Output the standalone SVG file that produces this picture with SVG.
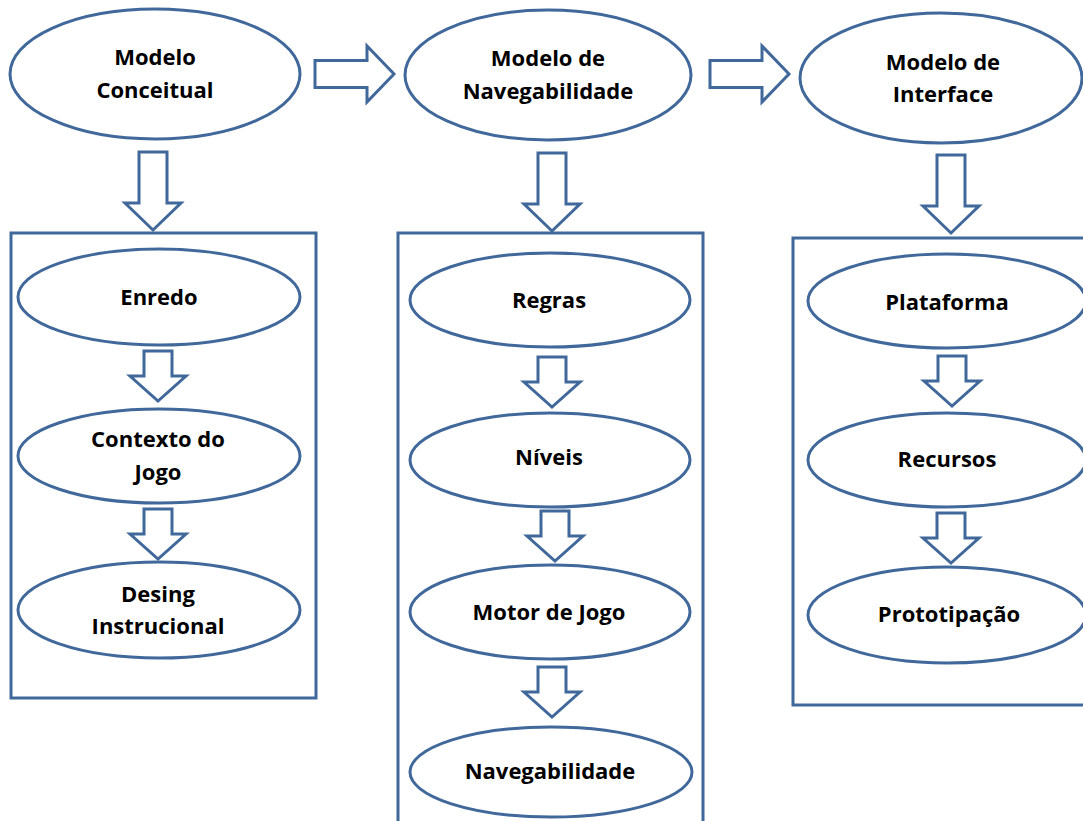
<svg xmlns="http://www.w3.org/2000/svg" xmlns:xlink="http://www.w3.org/1999/xlink" width="1083" height="821" viewBox="0 0 1083 821">
  <style>
    .shape { fill: #ffffff; stroke: #41689a; stroke-width: 3; }
    .frame { fill: none; stroke: #41689a; stroke-width: 3; }
    .arrow { fill: #ffffff; stroke: #41689a; stroke-width: 3; stroke-linejoin: miter; }
    .label { font-family: "Open Sans", "Liberation Sans", sans-serif; font-weight: 700; font-size: 22px; fill: #000000; text-anchor: middle; }
  </style>
  <defs>
    <!-- block arrows, each drawn relative to its tip at (0,0) -->
    <path id="downLong" d="M -14 -78 L 14 -78 L 14 -27 L 28 -27 L 0 0 L -28 -27 L -14 -27 Z"/>
    <path id="downShort" d="M -14 -50 L 14 -50 L 14 -25 L 28 -25 L 0 0 L -28 -25 L -14 -25 Z"/>
    <path id="right" d="M -79 -13.5 L -27 -13.5 L -27 -28 L 0 0 L -27 28 L -27 13.5 L -79 13.5 Z"/>
  </defs>

  <rect width="1083" height="821" fill="#ffffff"/>

  <!-- containers -->
  <g id="box-conceitual"><rect class="frame" x="11" y="233" width="305" height="465"/></g>
  <g id="box-navegabilidade"><rect class="frame" x="398" y="233" width="305" height="600"/></g>
  <g id="box-interface"><rect class="frame" x="793" y="238" width="305" height="467"/></g>

  <!-- connectors -->
  <g id="connectors">
    <use xlink:href="#right" class="arrow" transform="translate(394 74)"/>
    <use xlink:href="#right" class="arrow" transform="translate(789 74)"/>
    <use xlink:href="#downLong" class="arrow" transform="translate(153 230)"/>
    <use xlink:href="#downLong" class="arrow" transform="translate(552 231)"/>
    <use xlink:href="#downLong" class="arrow" transform="translate(951 233)"/>
    <use xlink:href="#downShort" class="arrow" transform="translate(158 401)"/>
    <use xlink:href="#downShort" class="arrow" transform="translate(158 559)"/>
    <use xlink:href="#downShort" class="arrow" transform="translate(552 407)"/>
    <use xlink:href="#downShort" class="arrow" transform="translate(555 561)"/>
    <use xlink:href="#downShort" class="arrow" transform="translate(552 717)"/>
    <use xlink:href="#downShort" class="arrow" transform="translate(952 406)"/>
    <use xlink:href="#downShort" class="arrow" transform="translate(951 563)"/>
  </g>

  <!-- top-level models -->
  <g id="modelo-conceitual">
    <ellipse class="shape" cx="155" cy="74" rx="145" ry="65"/>
    <text class="label" x="155" y="65">Modelo</text>
    <text class="label" x="155" y="98">Conceitual</text>
  </g>
  <g id="modelo-navegabilidade">
    <ellipse class="shape" cx="548" cy="75" rx="143" ry="65"/>
    <text class="label" x="548" y="66">Modelo de</text>
    <text class="label" x="548" y="99">Navegabilidade</text>
  </g>
  <g id="modelo-interface">
    <ellipse class="shape" cx="941" cy="78" rx="141" ry="65"/>
    <text class="label" x="943" y="70">Modelo de</text>
    <text class="label" x="943" y="102">Interface</text>
  </g>

  <!-- conceptual model steps -->
  <g id="enredo">
    <ellipse class="shape" cx="159" cy="297" rx="141" ry="48"/>
    <text class="label" x="159" y="305">Enredo</text>
  </g>
  <g id="contexto-jogo">
    <ellipse class="shape" cx="159" cy="456" rx="141" ry="47"/>
    <text class="label" x="158" y="447">Contexto do</text>
    <text class="label" x="158" y="480">Jogo</text>
  </g>
  <g id="desing-instrucional">
    <ellipse class="shape" cx="159" cy="610" rx="141" ry="48"/>
    <text class="label" x="158" y="602">Desing</text>
    <text class="label" x="158" y="634">Instrucional</text>
  </g>

  <!-- navigability model steps -->
  <g id="regras">
    <ellipse class="shape" cx="550" cy="300" rx="140" ry="47"/>
    <text class="label" x="549" y="308">Regras</text>
  </g>
  <g id="niveis">
    <ellipse class="shape" cx="550" cy="460" rx="140" ry="47"/>
    <text class="label" x="549" y="465">Níveis</text>
  </g>
  <g id="motor-jogo">
    <ellipse class="shape" cx="550" cy="612" rx="140" ry="47"/>
    <text class="label" x="549" y="620">Motor de Jogo</text>
  </g>
  <g id="navegabilidade">
    <ellipse class="shape" cx="551" cy="772" rx="141" ry="45"/>
    <text class="label" x="550" y="779">Navegabilidade</text>
  </g>

  <!-- interface model steps -->
  <g id="plataforma">
    <ellipse class="shape" cx="947" cy="301" rx="139" ry="47"/>
    <text class="label" x="947" y="310">Plataforma</text>
  </g>
  <g id="recursos">
    <ellipse class="shape" cx="947" cy="460" rx="139" ry="47"/>
    <text class="label" x="947" y="467">Recursos</text>
  </g>
  <g id="prototipacao">
    <ellipse class="shape" cx="947" cy="615" rx="139" ry="48"/>
    <text class="label" x="949" y="622">Prototipação</text>
  </g>
</svg>
